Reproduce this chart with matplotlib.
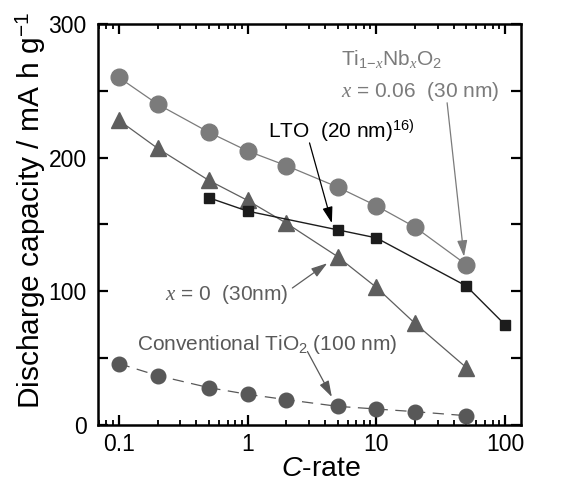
import numpy as np
import matplotlib
matplotlib.use('Agg')
import matplotlib.pyplot as plt
from matplotlib.ticker import FixedLocator, FuncFormatter, LogLocator, NullFormatter

plt.rcParams['font.family'] = ['Liberation Sans', 'DejaVu Sans']
plt.rcParams['mathtext.fontset'] = 'custom'
plt.rcParams['mathtext.rm'] = 'Liberation Sans'
plt.rcParams['mathtext.it'] = 'Liberation Serif:italic'
plt.rcParams['mathtext.sf'] = 'Liberation Sans:italic'

# data
rate_nb = [0.1, 0.2, 0.5, 1, 2, 5, 10, 20, 50]
cap_nb006 = [260, 240, 219, 205, 194, 178, 164, 148, 120]
cap_nb0 = [228, 207, 183, 168, 151, 126, 103, 76, 43]
rate_lto = [0.5, 1, 5, 10, 50, 100]
cap_lto = [170, 160, 146, 140, 104, 75]
cap_conv = [46, 37, 28, 23, 19, 14, 12, 10, 7]

fig = plt.figure(figsize=(5.62, 4.88), dpi=100)
ax = fig.add_axes([0.174, 0.129, 0.753, 0.822])

c_nb = '#7b7b7b'
c_tri = '#5e5e5e'
c_conv = '#585858'
c_lto = '#1c1c1c'

ax.plot(rate_nb, cap_conv, '--', color=c_conv, lw=0.9, dashes=(9, 6),
        marker='o', ms=10.5, mfc=c_conv, mec=c_conv, zorder=3)
ax.plot(rate_nb, cap_nb0, '-', color=c_tri, lw=0.9,
        marker='^', ms=12, mfc=c_tri, mec=c_tri, zorder=3)
ax.plot(rate_lto, cap_lto, '-', color=c_lto, lw=1.0,
        marker='s', ms=7.2, mfc=c_lto, mec=c_lto, zorder=4)
ax.plot(rate_nb, cap_nb006, '-', color=c_nb, lw=0.9,
        marker='o', ms=12, mfc=c_nb, mec=c_nb, zorder=3)

ax.set_xscale('log')
ax.set_xlim(0.0687, 133)
ax.set_ylim(0, 300)

ax.xaxis.set_major_locator(FixedLocator([0.1, 1, 10, 100]))
ax.xaxis.set_major_formatter(FuncFormatter(lambda v, p: '%g' % v))
ax.xaxis.set_minor_locator(LogLocator(base=10, subs=np.arange(2, 10)))
ax.xaxis.set_minor_formatter(NullFormatter())
ax.yaxis.set_major_locator(FixedLocator(np.arange(0, 301, 50)))
ax.yaxis.set_major_formatter(FuncFormatter(lambda v, p: '%d' % v if v % 100 == 0 else ''))

ax.tick_params(which='both', direction='in', top=True, right=True, width=1.6,
               labelsize=16.5)
ax.tick_params(axis='y', pad=8)
ax.tick_params(axis='x', pad=6)
ax.tick_params(which='major', length=7)
ax.tick_params(which='minor', length=3.5, width=1.3)
for s in ax.spines.values():
    s.set_linewidth(1.8)

ax.set_xlabel('$\\mathsf{C}$-rate', fontsize=20.5)
ax.set_ylabel('Discharge capacity / mA h g$^{-1}$', fontsize=21.5)
ax.xaxis.set_label_coords(0.527, -0.078)
ax.yaxis.set_label_coords(-0.118, 0.534)

fs = 15
head = '-|>,head_length=0.7,head_width=0.22'
ax.text(5.3, 269, 'Ti$_{1\\mathit{-x}}$Nb$_\\mathit{x}$O$_2$', color=c_nb, fontsize=fs)
ax.text(5.3, 245, '$\\mathit{x}$ = 0.06  (30 nm)', color=c_nb, fontsize=fs)
ax.annotate('', xy=(48, 126), xytext=(35.5, 241),
            arrowprops=dict(arrowstyle=head, color=c_nb, lw=0.9, mutation_scale=14,
                            shrinkA=0, shrinkB=0))

ax.text(1.43, 215, 'LTO  (20 nm)$^{16)}$', color='black', fontsize=fs)
ax.annotate('', xy=(4.52, 151), xytext=(3.03, 211),
            arrowprops=dict(arrowstyle=head, color='black', lw=0.9, mutation_scale=14,
                            shrinkA=0, shrinkB=0))

ax.text(0.227, 93.5, '$\\mathit{x}$ = 0  (30nm)', color=c_tri, fontsize=fs)
ax.annotate('', xy=(4.16, 121), xytext=(2.23, 102.5),
            arrowprops=dict(arrowstyle=head, color=c_tri, lw=0.9, mutation_scale=14,
                            shrinkA=0, shrinkB=0))

ax.text(0.138, 56, 'Conventional TiO$_2$ (100 nm)', color=c_conv, fontsize=fs)
ax.annotate('', xy=(4.52, 21), xytext=(2.92, 55),
            arrowprops=dict(arrowstyle=head, color=c_conv, lw=0.9, mutation_scale=14,
                            shrinkA=0, shrinkB=0))

fig.savefig('out.png', dpi=100)
